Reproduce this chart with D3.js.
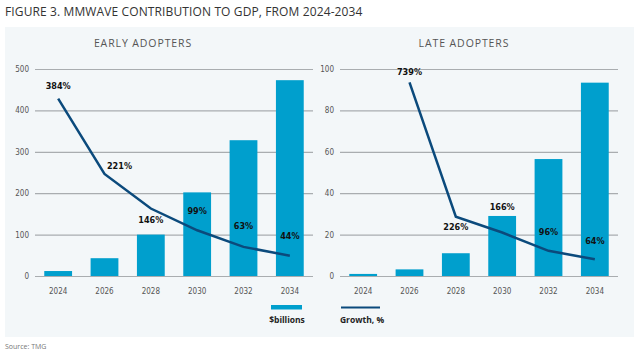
<!DOCTYPE html>
<html><head><meta charset="utf-8">
<script src="https://cdn.jsdelivr.net/npm/d3@7"></script>
<style>
body{margin:0;background:#fff;}
svg{display:block;}
</style></head>
<body>
<svg id="c" width="640" height="354"></svg>
<script>
const years = ["2024","2026","2028","2030","2032","2034"];
const earlyBillions = [12, 43, 100, 202, 328, 473];
const earlyGrowth = [384, 221, 146, 99, 63, 44];
const lateBillions = [1, 3.2, 11, 29, 56.5, 93.4];
const lateGrowth = [null, 739, 226, 166, 96, 64];
const earlyTicks = [0, 100, 200, 300, 400, 500];
const lateTicks = [0, 20, 40, 60, 80, 100];
const titleText = "FIGURE 3. MMWAVE CONTRIBUTION TO GDP, FROM 2024-2034";
const sourceText = "Source: TMG";

const svg = d3.select("#c");
const barColor = "#009fcd", lineColor = "#0b4a7c";
const condensed = "'Liberation Sans Narrow','DejaVu Sans Condensed',sans-serif";

svg.append("rect").attr("x",5).attr("y",27).attr("width",629).attr("height",310).attr("fill","#f3f7f9");
svg.append("text").attr("x",5).attr("y",16).text(titleText)
  .attr("font-family","'Open Sans',sans-serif").attr("font-size",12).attr("letter-spacing",0.12).attr("fill","#333");
svg.append("text").attr("x",5).attr("y",349).text(sourceText)
  .attr("font-family","'Open Sans',sans-serif").attr("font-size",7).attr("fill","#777");

function panel(cfg){
  const g = svg.append("g");
  const x = d3.scaleBand().domain(years).range(cfg.xr).paddingInner(0.4).paddingOuter(0.2);
  const y = d3.scaleLinear().domain([0, cfg.ymax]).range([276, 69]);
  const yg = d3.scaleLinear().domain([0, cfg.gmax]).range([276, 69]);
  g.append("text").attr("x",cfg.titleX).attr("y",47).attr("text-anchor","middle").text(cfg.title)
    .attr("font-family","'Open Sans',sans-serif").attr("font-size",10.5).attr("letter-spacing",0.9).attr("fill","#555");
  const ax = g.append("g").call(d3.axisLeft(y).tickValues(cfg.ticks).tickSize(-(cfg.xr[1]-cfg.xr[0])).tickPadding(6))
    .attr("transform",`translate(${cfg.xr[0]},0)`);
  ax.select(".domain").remove();
  ax.selectAll(".tick line").attr("stroke","#a9adb0").attr("stroke-width",1.2);
  ax.selectAll(".tick text").attr("font-family",condensed).attr("font-size",8).attr("fill","#555");
  const xa = g.append("g").attr("transform","translate(0,276)").call(d3.axisBottom(x).tickSize(0).tickPadding(12));
  xa.select(".domain").remove();
  xa.selectAll(".tick text").attr("font-family",condensed).attr("font-size",8).attr("fill","#555");
  g.selectAll(".bar").data(cfg.bars).join("rect")
    .attr("x",(d,i)=>x(years[i])).attr("width",x.bandwidth())
    .attr("y",d=>y(d)).attr("height",d=>276-y(d)).attr("fill",barColor);
  const pts = cfg.growth.map((v,i)=>({v, yr:years[i], i})).filter(d=>d.v!=null);
  g.append("path").datum(pts)
    .attr("d", d3.line().x(d=>x(d.yr)+x.bandwidth()/2).y(d=>yg(d.v)))
    .attr("fill","none").attr("stroke",lineColor).attr("stroke-width",2.5);
  g.selectAll(".lbl").data(pts).join("text")
    .attr("x",d=>x(d.yr)+x.bandwidth()/2 + cfg.off[d.i][0])
    .attr("y",d=>yg(d.v) + cfg.off[d.i][1])
    .attr("text-anchor","middle").attr("dominant-baseline","middle")
    .text(d=>d.v+"%")
    .attr("font-family",condensed).attr("font-weight","bold").attr("font-size",9).attr("fill","#111");
}

panel({xr:[35,313], ymax:500, gmax:448, ticks:earlyTicks, bars:earlyBillions, growth:earlyGrowth,
  title:"EARLY ADOPTERS", titleX:143,
  off:[[0,-12],[15,-7],[0,12],[0,-19],[0,-20],[0,-19]]});
panel({xr:[340,618], ymax:100, gmax:790, ticks:lateTicks, bars:lateBillions, growth:lateGrowth,
  title:"LATE ADOPTERS", titleX:464,
  off:[null,[0,-10],[0,11],[0,-25],[0,-18],[0,-18]]});

// legend
const lg = svg.append("g");
lg.append("rect").attr("x",271).attr("y",305).attr("width",31).attr("height",4.5).attr("fill",barColor);
lg.append("line").attr("x1",341).attr("x2",380).attr("y1",307.5).attr("y2",307.5).attr("stroke",lineColor).attr("stroke-width",2.2);
lg.append("text").attr("x",287).attr("y",323).attr("text-anchor","middle").text("$billions")
  .attr("font-family","'Open Sans',sans-serif").attr("font-weight","bold").attr("font-size",8.5).attr("fill","#222");
lg.append("text").attr("x",362).attr("y",323).attr("text-anchor","middle").text("Growth, %")
  .attr("font-family","'Open Sans',sans-serif").attr("font-weight","bold").attr("font-size",8.5).attr("fill","#222");
</script>
</body></html>
